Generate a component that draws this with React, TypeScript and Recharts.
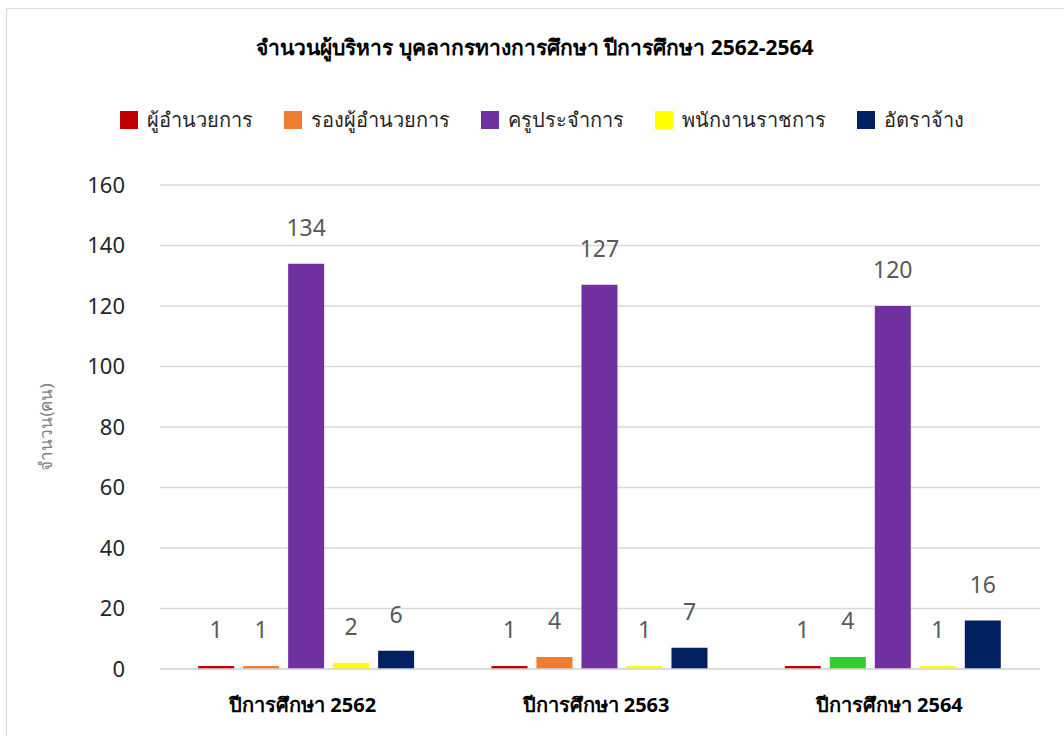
import React from 'react';
import { BarChart, Bar, XAxis, YAxis, CartesianGrid, LabelList, Cell, Legend } from 'recharts';

const categories = ['ปีการศึกษา 2562', 'ปีการศึกษา 2563', 'ปีการศึกษา 2564'];
const director = [1, 1, 1];
const deputy = [1, 4, 4];
const teachers = [134, 127, 120];
const govEmployees = [2, 1, 1];
const contract = [6, 7, 16];
const yTicks = [0, 20, 40, 60, 80, 100, 120, 140, 160];

const seriesNames = ['ผู้อำนวยการ', 'รองผู้อำนวยการ', 'ครูประจำการ', 'พนักงานราชการ', 'อัตราจ้าง'];
const seriesKeys = ['director', 'deputy', 'teachers', 'govEmployees', 'contract'];
const seriesColors = ['#C00000', '#ED7D31', '#7030A0', '#FFFF00', '#002060'];
const deputyCellColors = ['#ED7D31', '#ED7D31', '#33CC33'];

const title = 'จำนวนผู้บริหาร บุคลากรทางการศึกษา ปีการศึกษา 2562-2564';
const yLabel = 'จำนวน(คน)';

const data = categories.map((c, i) => ({
  name: c,
  director: director[i],
  deputy: deputy[i],
  teachers: teachers[i],
  govEmployees: govEmployees[i],
  contract: contract[i],
}));

const FONT = "Tahoma, 'Noto Sans', 'DejaVu Sans', sans-serif";

const LegendContent = () => (
  <div style={{ display: 'flex', justifyContent: 'center', alignItems: 'center', fontFamily: FONT, fontSize: 20, color: '#262626' }}>
    {seriesNames.map((n, i) => (
      <div key={n} style={{ display: 'flex', alignItems: 'center', marginRight: i < seriesNames.length - 1 ? 31 : 0 }}>
        <div style={{ width: 18, height: 18, background: seriesColors[i], marginRight: 9 }} />
        <span>{n}</span>
      </div>
    ))}
  </div>
);

export default function App() {
  return (
    <div style={{ position: 'absolute', left: 0, top: 0, width: 1064, height: 736, background: '#fff', overflow: 'hidden' }}>
      <div style={{ position: 'absolute', left: 6, top: 8, width: 1070, height: 740, border: '1px solid #d9d9d9', boxSizing: 'border-box' }} />
      <div style={{ position: 'absolute', left: 0, width: 1070, top: 31, textAlign: 'center', fontFamily: FONT, fontWeight: 'bold', fontSize: 21, color: '#000' }}>
        {title}
      </div>
      <div style={{ position: 'absolute', left: 0, top: 0 }}>
        <BarChart
          width={1064}
          height={736}
          data={data}
          margin={{ top: 185, right: 24, bottom: 17, left: 100 }}
          barCategoryGap="13%"
          barGap={9}
        >
          <CartesianGrid vertical={false} stroke="#d9d9d9" strokeWidth={1.5} />
          <XAxis
            dataKey="name"
            height={50}
            axisLine={{ stroke: '#d9d9d9', strokeWidth: 1.5 }}
            tickLine={false}
            tickSize={0}
            tickMargin={29}
            tick={{ fontFamily: FONT, fontSize: 20, fontWeight: 'bold', fill: '#000', dx: -4 }}
          />
          <YAxis
            width={60}
            domain={[0, 160]}
            ticks={yTicks}
            axisLine={false}
            tickLine={false}
            tickSize={0}
            tickMargin={35}
            tick={{ fontFamily: FONT, fontSize: 22, fill: '#262626' }}
            label={{ value: yLabel, angle: -90, position: 'center', dx: -84, style: { fontFamily: FONT, fontSize: 17, fill: '#7f7f7f' } }}
          />
          <Legend
            verticalAlign="middle"
            align="center"
            layout="horizontal"
            content={<LegendContent />}
            wrapperStyle={{ top: 104, left: 10, width: 1064 }}
          />
          {seriesKeys.map((k, i) => (
            <Bar key={k} dataKey={k} name={seriesNames[i]} fill={seriesColors[i]} isAnimationActive={false}>
              {k === 'deputy' && deputyCellColors.map((c, j) => <Cell key={j} fill={c} />)}
              <LabelList dataKey={k} position="top" offset={28} style={{ fontFamily: FONT, fontSize: 23, fill: '#595959' }} />
            </Bar>
          ))}
        </BarChart>
      </div>
    </div>
  );
}
